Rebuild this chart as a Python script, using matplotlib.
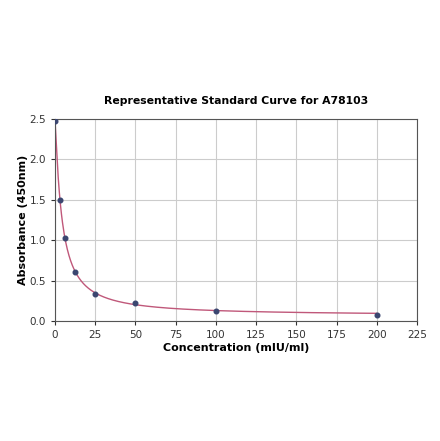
import numpy as np
import matplotlib
matplotlib.use("Agg")
import matplotlib.pyplot as plt

conc = [0, 3.125, 6.25, 12.5, 25, 50, 100, 200]
absorb = [2.48, 1.50, 1.03, 0.61, 0.34, 0.22, 0.13, 0.08]
x_ticks = [0, 25, 50, 75, 100, 125, 150, 175, 200, 225]
y_ticks = [0.0, 0.5, 1.0, 1.5, 2.0, 2.5]


def fit_4pl(x, y):
    # grid over b, c; a and d by linear least squares
    x = np.asarray(x, float)
    y = np.asarray(y, float)
    best = None
    for b in np.linspace(0.5, 2.5, 81):
        for c in np.geomspace(0.5, 50, 121):
            g = 1.0 / (1.0 + (x / c) ** b)
            A = np.column_stack([g, 1 - g])
            coef, *_ = np.linalg.lstsq(A, y, rcond=None)
            err = np.sum((A @ coef - y) ** 2)
            if best is None or err < best[0]:
                best = (err, coef[0], b, c, coef[1])
    _, a, b, c, d = best
    return lambda t: d + (a - d) / (1.0 + (t / c) ** b)


curve = fit_4pl(conc, absorb)
xs = np.linspace(0, max(conc), 600)

fig = plt.figure(figsize=(4.4, 4.41), dpi=100)
ax = fig.add_axes([0.125, 0.272, 0.823, 0.458])
ax.plot(xs, curve(xs), color="#c0587a", lw=1.0, zorder=2)
ax.scatter(conc, absorb, s=11, color="#3b4670", zorder=3)

ax.set_xlim(0, 225)
ax.set_ylim(0, 2.5)
ax.set_xticks(x_ticks)
ax.set_yticks(y_ticks)
ax.grid(True, color="#cccccc", lw=0.8)
ax.set_axisbelow(True)
ax.tick_params(labelsize=7.5, length=3, colors="#333333")
for s in ax.spines.values():
    s.set_color("#555555")
    s.set_linewidth(0.8)

ax.set_title("Representative Standard Curve for A78103", fontsize=7.8, fontweight="bold", pad=11)
ax.set_xlabel("Concentration (mIU/ml)", fontsize=8, fontweight="bold", labelpad=2)
ax.set_ylabel("Absorbance (450nm)", fontsize=8, fontweight="bold", labelpad=1)

fig.savefig("out.png", dpi=100)
